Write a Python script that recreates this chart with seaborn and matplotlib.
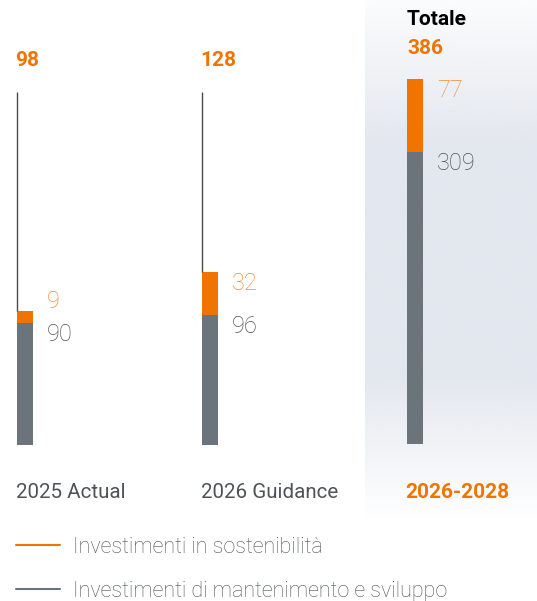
import numpy as np
import pandas as pd
import matplotlib
matplotlib.use("Agg")
import matplotlib.pyplot as plt
from matplotlib.lines import Line2D
import matplotlib.transforms as mtransforms
import seaborn as sns

# ---------------- data ----------------
annual_categories = ["2025 Actual", "2026 Guidance"]
annual_sustain = [9, 32]          # Investimenti in sostenibilità
annual_maint = [90, 96]           # Investimenti di mantenimento e sviluppo
annual_totals = [98, 128]

plan_category = ["2026-2028"]
plan_sustain = [77]
plan_maint = [309]
plan_total = [386]

legend_labels = ["Investimenti in sostenibilità",
                 "Investimenti di mantenimento e sviluppo"]

# ---------------- style ----------------
ORANGE = "#f07400"
LABELORANGE = "#f28a2e"
BARGRAY = "#6c747b"
TEXTGRAY = "#4f5358"
LINEGRAY = "#4a4a4a"
PANEL = "#e3e7ee"

sns.set_theme(style="white")
plt.rcParams["font.family"] = ["Roboto", "DejaVu Sans"]

W, H = 537, 601
fig = plt.figure(figsize=(W / 100, H / 100), dpi=100)
fig.patch.set_facecolor("white")

def rect(x0, y0, x1, y1):
    """pixel box (top-left origin) -> figure fraction rect"""
    return [x0 / W, 1 - y1 / H, (x1 - x0) / W, (y1 - y0) / H]

# ---------- background gradient panel ----------
ax_bg = fig.add_axes(rect(365, 0, 537, 520))
n = 256
pos = np.linspace(0, 1, n)
alpha = np.interp(pos, [0, 0.28, 0.72, 1.0], [0.12, 1.0, 1.0, 0.0])
rgb = np.array(matplotlib.colors.to_rgb(PANEL))
img = np.ones((n, 1, 4))
img[:, 0, :3] = rgb
img[:, 0, 3] = alpha
ax_bg.imshow(img, aspect="auto", extent=[0, 1, 0, 1], origin="upper")
ax_bg.set_axis_off()

# ---------- annual bars (left) ----------
SCALE1 = 1.35          # px per unit
TOP1, BASE1 = 40, 444.5
ax1 = fig.add_axes(rect(0, TOP1, 330, BASE1))
ax1.patch.set_alpha(0)
bar_w1 = 16 / 185
df1 = pd.DataFrame({"cat": annual_categories,
                    "total": np.array(annual_maint) + np.array(annual_sustain),
                    "maint": annual_maint})
sns.barplot(data=df1, x="cat", y="total", color=ORANGE, width=bar_w1,
            linewidth=0, saturation=1, ax=ax1)
sns.barplot(data=df1, x="cat", y="maint", color=BARGRAY, width=bar_w1,
            linewidth=0, saturation=1, ax=ax1)
ax1.set_xlim(-25 / 185, (330 - 25) / 185)
ax1.set_ylim(0, (BASE1 - TOP1) / SCALE1)
line_top = (BASE1 - 92) / SCALE1

# ---------- plan bar (right) ----------
SCALE2 = 0.946
ax2 = fig.add_axes(rect(365, 0, 537, 520))
ax2.patch.set_alpha(0)
df2 = pd.DataFrame({"cat": plan_category,
                    "total": np.array(plan_maint) + np.array(plan_sustain),
                    "maint": plan_maint})
sns.barplot(data=df2, x="cat", y="total", color=ORANGE, width=0.16,
            linewidth=0, saturation=1, ax=ax2)
sns.barplot(data=df2, x="cat", y="maint", color=BARGRAY, width=0.16,
            linewidth=0, saturation=1, ax=ax2)
ax2.set_xlim(-0.5, 1.22)
ylo = -(520 - 444) / SCALE2
ax2.set_ylim(ylo, ylo + 520 / SCALE2)

for ax in (ax1, ax2):
    ax.set_axis_off()

def value_labels(ax, xs, bw, sustain, maint, scale):
    for x, s, m in zip(xs, sustain, maint):
        tot = s + m
        small = s * scale < 20
        ax.annotate(str(s), (x + bw / 2, tot), xytext=(10, 2 if small else 0),
                    textcoords="offset points", ha="left",
                    va="baseline" if small else "top",
                    fontsize=17, fontweight="light", color=LABELORANGE)
        ax.annotate(str(m), (x + bw / 2, m), xytext=(10, 0),
                    textcoords="offset points", ha="left", va="top",
                    fontsize=17, fontweight="light", color=TEXTGRAY)

# thin guide lines, totals, category labels (annual)
tr1 = mtransforms.blended_transform_factory(ax1.transData, ax1.transAxes)
for i, (cat, s, m, tot) in enumerate(zip(annual_categories, annual_sustain,
                                         annual_maint, annual_totals)):
    x_left = i - bar_w1 / 2
    ax1.plot([x_left, x_left], [s + m, line_top], color=LINEGRAY, lw=1,
             solid_capstyle="butt")
    ax1.text(x_left - 0.012, (BASE1 - 60) / (BASE1 - TOP1), str(tot),
             transform=tr1, ha="left", va="center", fontsize=15,
             fontweight="bold", color=ORANGE)
    ax1.text(x_left - 0.005, (BASE1 - 492) / (BASE1 - TOP1), cat,
             transform=tr1, ha="left", va="center", fontsize=14.8,
             color=TEXTGRAY)
value_labels(ax1, range(len(annual_categories)), bar_w1,
             annual_sustain, annual_maint, SCALE1)

# plan bar labels
tr2 = mtransforms.blended_transform_factory(ax2.transData, ax2.transAxes)
xl2 = -0.08
ax2.text(xl2, 1 - 19.5 / 520, "Totale", transform=tr2, ha="left",
         va="center", fontsize=15, fontweight="bold", color="black")
ax2.text(xl2, 1 - 48.5 / 520, str(plan_total[0]), transform=tr2, ha="left",
         va="center", fontsize=15, fontweight="bold", color=ORANGE)
ax2.text(xl2 - 0.02, 1 - 492 / 520, plan_category[0], transform=tr2,
         ha="left", va="center", fontsize=15, fontweight="bold", color=ORANGE)
value_labels(ax2, [0], 0.16, plan_sustain, plan_maint, SCALE2)

# ---------- legend ----------
handles = [Line2D([], [], color=ORANGE, lw=1.5),
           Line2D([], [], color=BARGRAY, lw=1.5)]
leg = fig.legend(handles, legend_labels, loc="upper left",
                 bbox_to_anchor=(16 / W, 1 - 537 / H), frameon=False,
                 borderpad=0, borderaxespad=0, handlelength=2.05,
                 handletextpad=0.6, labelspacing=1.05,
                 prop={"size": 15.5, "weight": "light"})
for t in leg.get_texts():
    t.set_color("#4f5358")

fig.savefig("out.png", dpi=100, facecolor="white")
